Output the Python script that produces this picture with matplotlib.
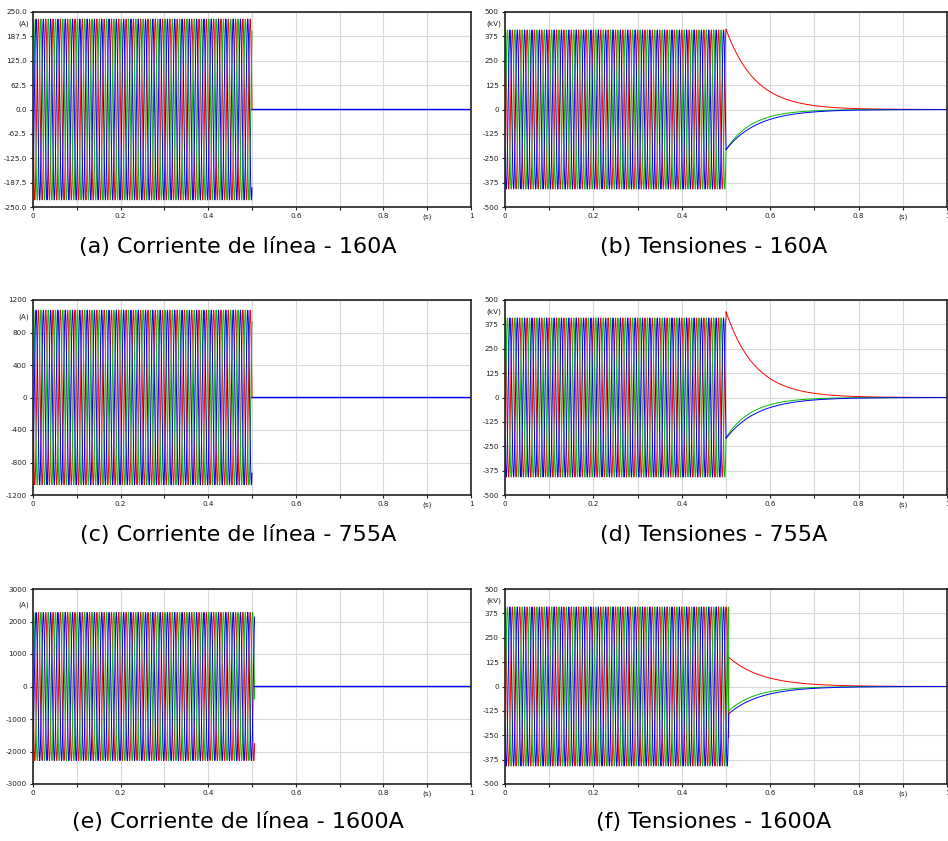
import matplotlib
matplotlib.use('Agg')
import matplotlib.pyplot as plt
import numpy as np

# system frequency (Hz) and simulated time span (s)
freq = 60.0
t_end = 1.0

# panel captions, row by row
cur_titles = ['(a) Corriente de línea - 160A', '(c) Corriente de línea - 755A', '(e) Corriente de línea - 1600A']
volt_titles = ['(b) Tensiones - 160A', '(d) Tensiones - 755A', '(f) Tensiones - 1600A']

# breaker opening time per case (s)
t_open = [0.500, 0.500, 0.506]

# line current peak (A) per case
i_peak = [232.0, 1075.0, 2280.0]
# current y axis: limit and tick step
i_lim = [250.0, 1200.0, 3000.0]
i_step = [62.5, 400.0, 1000.0]

# phase voltage peak (kV) per case
v_peak = [408.0, 408.0, 408.0]
# trapped voltage right after opening (kV): red, green, blue
v_trap_r = [412.0, 440.0, 150.0]
v_trap_g = [-206.0, -205.0, -125.0]
v_trap_b = [-206.0, -210.0, -140.0]
# decay time constants (s): red, green, blue
tau_r = [0.066, 0.066, 0.075]
tau_g = [0.058, 0.058, 0.060]
tau_b = [0.071, 0.071, 0.072]
v_lim = 500.0
v_step = 125.0

colors = ['#ff0000', '#00c000', '#0000ff']
phase_deg = [0.0, -120.0, 120.0]

t = np.linspace(0, t_end, 40001)
w = 2 * np.pi * freq


def style_axes(ax, ylim, ystep, unit, fmt):
	ax.set_xlim(0, t_end)
	ax.set_ylim(-ylim, ylim)
	xt = np.round(np.arange(0, 1.0001, 0.1), 1)
	ax.set_xticks(xt)
	xl = []
	for v in xt:
		if v == 0:
			xl.append('0')
		elif v == 1:
			xl.append('1')
		elif abs(v - 0.9) < 1e-6:
			xl.append('(s)')
		elif int(round(v * 10)) % 2 == 0:
			xl.append('%.1f' % v)
		else:
			xl.append('')
	ax.set_xticklabels(xl)
	yt = np.arange(-ylim, ylim + ystep / 2, ystep)
	ax.set_yticks(yt)
	ax.set_yticklabels([fmt % v for v in yt])
	ax.tick_params(labelsize=5.2, length=2.5, width=0.8, pad=2, colors='#222222')
	ax.grid(True, color='#d9d9d9', linewidth=0.8)
	ax.set_axisbelow(True)
	for s in ax.spines.values():
		s.set_linewidth(1.2)
		s.set_color('#222222')
	ax.text(-0.008, ylim - ystep / 2, unit, transform=ax.get_yaxis_transform(),
		ha='right', va='center', fontsize=5.2, color='#222222')


fig = plt.figure(figsize=(9.48, 8.41), dpi=100)

bottoms = [1 - 207 / 841., 1 - 495 / 841., 1 - 784 / 841.]
height = 195 / 841.
cap_y = [1 - 247 / 841., 1 - 535 / 841., 1 - 822 / 841.]

for k in range(3):
	# line currents
	ax = fig.add_axes([33 / 948., bottoms[k], 438 / 948., height])
	after = t > t_open[k]
	for p in range(3):
		i = i_peak[k] * np.cos(w * t + np.radians(phase_deg[p] + 90))
		i[after] = np.nan
		ax.plot(t, i, color=colors[p], linewidth=0.7)
	# open breaker: current stays at zero (blue phase drawn on top)
	t_off = t[after]
	ax.plot(np.r_[t_open[k], t_off], np.zeros(len(t_off) + 1), color=colors[2], linewidth=1.0)
	fmt = '%.1f' if k == 0 else '%d'
	style_axes(ax, i_lim[k], i_step[k], '(A)', fmt)
	fig.text(238 / 948., cap_y[k], cur_titles[k], ha='center', va='center', fontsize=16)

	# phase voltages
	ax = fig.add_axes([505 / 948., bottoms[k], 442 / 948., height])
	trap = [v_trap_r[k], v_trap_g[k], v_trap_b[k]]
	tau = [tau_r[k], tau_g[k], tau_b[k]]
	for p in range(3):
		v = v_peak[k] * np.cos(w * t + np.radians(phase_deg[p]))
		v[after] = trap[p] * np.exp(-(t[after] - t_open[k]) / tau[p])
		ax.plot(t, v, color=colors[p], linewidth=0.7)
	style_axes(ax, v_lim, v_step, '(kV)', '%d')
	fig.text(714 / 948., cap_y[k], volt_titles[k], ha='center', va='center', fontsize=16)

plt.savefig('out.png', dpi=100)
